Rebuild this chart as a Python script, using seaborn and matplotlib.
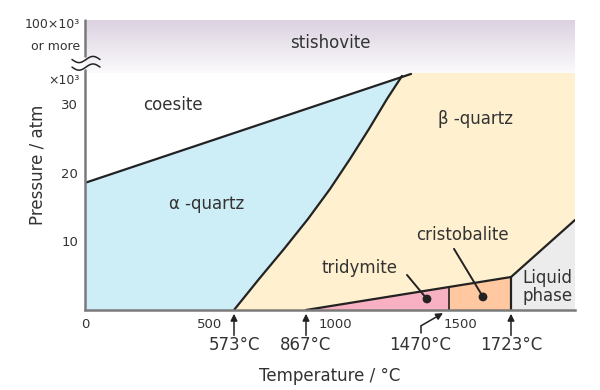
import numpy as np
import matplotlib
matplotlib.use('Agg')
import matplotlib.pyplot as plt
import seaborn as sns
import pandas as pd
from matplotlib.colors import LinearSegmentedColormap

# ---------------- data ----------------
x_ticks = [0, 500, 1000, 1500]
y_ticks = [10, 20, 30]
coesite_T = [0, 1304]
coesite_P = [18.5, 34.35]
ab_T = [596, 696, 796, 892, 980, 1060, 1136, 1208, 1268]
ab_P = [0.0, 4.51, 8.88, 13.25, 17.61, 21.98, 26.35, 30.71, 34.06]
trid_T = [884, 1704]
trid_P = [0.0, 4.8]
liquid_T = [1704, 1960]
liquid_P = [4.8, 13.1]
cristo_T = 1456
T_max = 1960
P_top = 34.5
P_axis_top = 42.2
event_labels = ['573°C', '867°C', '1470°C', '1723°C']
event_T = [596, 884, 1340, 1704]
dots_T = [1368, 1592]
dots_P = [1.6, 1.9]

# colours
c_alpha = '#cdeef7'
c_beta = '#fff0cf'
c_trid = '#f7b1c3'
c_cristo = '#ffc8a0'
c_liquid = '#ececec'
c_line = '#222222'
c_axis = '#7a7a7a'
c_text = '#333333'

sns.set_theme(style='white')
plt.rcParams['font.family'] = ['DejaVu Sans']

fig = plt.figure(figsize=(6, 3.9), dpi=100)
W, H = 600, 390
x0, x1, y0, y1 = 85, 575, 310, 20
ax = fig.add_axes([x0 / W, 1 - y0 / H, (x1 - x0) / W, (y0 - y1) / H])
ax.set_xlim(0, T_max)
ax.set_ylim(0, P_axis_top)

# ---- regions ----
ax.fill_between([0, T_max], 0, P_top, color=c_beta, lw=0, zorder=1)
alpha_poly = list(zip(ab_T, ab_P)) + [(coesite_T[0], coesite_P[0]), (0, 0)]
ax.fill(*zip(*alpha_poly), color=c_alpha, lw=0, zorder=2)
coes_poly = [(coesite_T[0], coesite_P[0]), (coesite_T[1], coesite_P[1]),
             (coesite_T[1], P_top), (0, P_top)]
ax.fill(*zip(*coes_poly), color='white', lw=0, zorder=2)
P_at_cristo = np.interp(cristo_T, trid_T, trid_P)
ax.fill([trid_T[0], cristo_T, cristo_T], [0, P_at_cristo, 0], color=c_trid, lw=0, zorder=2)
ax.fill([cristo_T, cristo_T, trid_T[1], trid_T[1]], [0, P_at_cristo, trid_P[1], 0],
        color=c_cristo, lw=0, zorder=2)
ax.fill([liquid_T[0], liquid_T[0], liquid_T[1], liquid_T[1]], [0, liquid_P[0], liquid_P[1], 0],
        color=c_liquid, lw=0, zorder=2)

# stishovite gradient band
cmap = LinearSegmentedColormap.from_list('st', ['#fbfafc', '#dcd2e1'])
grad = np.linspace(0, 1, 100).reshape(-1, 1)
ax.imshow(grad, extent=[0, T_max, P_top, P_axis_top], origin='lower', cmap=cmap,
          aspect='auto', zorder=1)

# ---- boundary lines ----
lw = 1.6
sns.lineplot(x=coesite_T, y=coesite_P, color=c_line, lw=lw, ax=ax, sort=False, estimator=None, zorder=4)
sns.lineplot(x=ab_T, y=ab_P, color=c_line, lw=lw, ax=ax, sort=False, estimator=None, zorder=4)
sns.lineplot(x=trid_T, y=trid_P, color=c_line, lw=lw, ax=ax, sort=False, estimator=None, zorder=4)
sns.lineplot(x=liquid_T, y=liquid_P, color=c_line, lw=lw, ax=ax, sort=False, estimator=None, zorder=4)
ax.plot([cristo_T, cristo_T], [0, P_at_cristo], color=c_line, lw=1.2, zorder=4)
ax.plot([trid_T[1], trid_T[1]], [0, trid_P[1]], color=c_line, lw=lw, zorder=4)

# dots + leaders
sns.scatterplot(x=dots_T, y=dots_P, color=c_line, s=40, ax=ax, zorder=6, edgecolor='none')
ax.plot([1288, dots_T[0]], [5.1, dots_P[0]], color=c_line, lw=1.4, zorder=5)
ax.plot([1476, dots_T[1]], [8.9, dots_P[1]], color=c_line, lw=1.4, zorder=5)

# ---- axes styling ----
for s in ['top', 'right', 'left']:
    ax.spines[s].set_visible(False)
ax.spines['bottom'].set_color(c_axis)
ax.spines['bottom'].set_linewidth(1.8)
ax.spines['bottom'].set_zorder(7)
ax.set_xticks(x_ticks)
ax.set_xticklabels([str(v) for v in x_ticks])
ax.set_yticks(y_ticks)
ax.set_yticklabels([str(v) for v in y_ticks])
ax.tick_params(axis='both', direction='in', length=7, width=1.6, color=c_axis,
               labelsize=9.5, labelcolor=c_text)
ax.tick_params(axis='x', pad=6)
ax.tick_params(axis='y', pad=5, length=8)
ax.xaxis.get_major_ticks()[0].tick1line.set_visible(False)

# manual y axis with break
P_brk_lo, P_brk_hi = 34.9, 37.0
ax.plot([0, 0], [0, P_brk_lo], color=c_axis, lw=1.8, clip_on=False, zorder=7)
ax.plot([0, 0], [P_brk_hi, P_axis_top], color=c_axis, lw=1.8, clip_on=False, zorder=7)
tt = np.linspace(-52, 60, 60)
for pc in [P_brk_hi - 0.55, P_brk_lo + 0.45]:
    ax.plot(tt, pc + 0.45 * np.sin((tt + 52) / 112 * 2 * np.pi + np.pi), color=c_line,
            lw=1.1, clip_on=False, zorder=8)

# ---- region labels ----
fs = 12
ax.text(980, 38.9, 'stishovite', ha='center', va='center', fontsize=fs, color=c_text, zorder=9)
ax.text(352, 29.8, 'coesite', ha='center', va='center', fontsize=fs, color=c_text, zorder=9)
ax.text(1560, 27.8, 'β -quartz', ha='center', va='center', fontsize=fs, color=c_text, zorder=9)
ax.text(488, 15.4, 'α -quartz', ha='center', va='center', fontsize=fs, color=c_text, zorder=9)
ax.text(1508, 10.9, 'cristobalite', ha='center', va='center', fontsize=fs, color=c_text, zorder=9)
ax.text(1100, 6.1, 'tridymite', ha='center', va='center', fontsize=fs, color=c_text, zorder=9)
ax.text(1750, 3.35, 'Liquid\nphase', ha='left', va='center', fontsize=fs, color=c_text,
        linespacing=1.0, zorder=9)

# ---- temperature markers ----
P_txt = -5.1
for lab, T in zip(event_labels, event_T):
    ax.text(T, P_txt, lab, ha='center', va='center', fontsize=fs, color=c_text, clip_on=False)
arrow_kw = dict(arrowstyle='-|>', color=c_line, lw=1.1, mutation_scale=10, shrinkA=0, shrinkB=0)
for T in [event_T[0], event_T[1], event_T[3]]:
    ax.annotate('', xy=(T, -0.55), xytext=(T, -3.7), arrowprops=arrow_kw, annotation_clip=False)
ax.plot([1344, 1344], [-3.35, -2.3], color=c_line, lw=1.1, clip_on=False)
ax.annotate('', xy=(1432, -0.45), xytext=(1344, -2.3), arrowprops=arrow_kw, annotation_clip=False)

# ---- outer labels ----
fig.text(330 / W, 1 - 376 / H, 'Temperature / °C', ha='center', va='center', fontsize=fs, color=c_text)
fig.text(38 / W, 1 - 165 / H, 'Pressure / atm', ha='center', va='center', fontsize=fs,
         color=c_text, rotation=90)
fig.text(80 / W, 1 - 25 / H, '100×10³', ha='right', va='center', fontsize=9, color=c_text)
fig.text(80 / W, 1 - 46 / H, 'or more', ha='right', va='center', fontsize=9, color=c_text)
fig.text(80 / W, 1 - 80 / H, '×10³', ha='right', va='center', fontsize=9, color=c_text)

fig.savefig('out.png', dpi=100)
